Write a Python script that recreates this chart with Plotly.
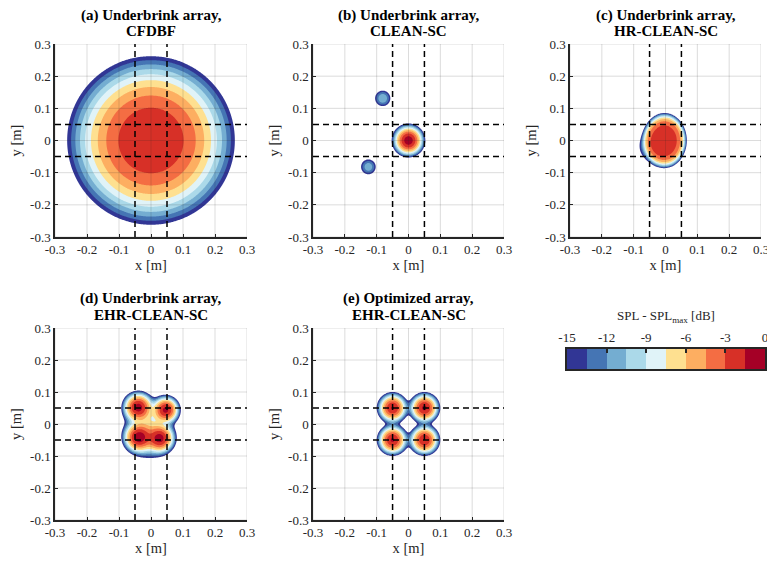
import numpy as np
import plotly.graph_objects as go

# ---------------------------------------------------------------- axes / levels
tick_vals = [-0.3, -0.2, -0.1, 0.0, 0.1, 0.2, 0.3]
tick_text = ["-0.3", "-0.2", "-0.1", "0", "0.1", "0.2", "0.3"]
window_edges = [-0.05, 0.05]          # dashed source-region boundaries [m]

level_min = -15.0                     # lowest displayed level [dB]
level_top = -1.5                      # highest contour level [dB]
level_step = 1.5
band_colors = ["#313695", "#4575b4", "#74add1", "#abd9e9", "#e0f3f8",
               "#fee090", "#fdae61", "#f46d43", "#d73027", "#a50026"]
cbar_tick_vals = [-15, -12, -9, -6, -3, 0]
cbar_tick_text = ["-15", "-12", "-9", "-6", "-3", "0"]

panel_titles = [
    ("(a) Underbrink array,", "CFDBF"),
    ("(b) Underbrink array,", "CLEAN-SC"),
    ("(c) Underbrink array,", "HR-CLEAN-SC"),
    ("(d) Underbrink array,", "EHR-CLEAN-SC"),
    ("(e) Optimized array,", "EHR-CLEAN-SC"),
]

# ---------------------------------------------------------------- source maps
# each lobe: centre x, y [m], peak level [dB], x-radius of its -15 dB edge [m],
# y/x stretch of the lobe, roll-off exponent
a_x = [0.0]
a_y = [0.0]
a_peak = [-1.75]
a_edge = [0.262]
a_stretch = [1.0]
a_shape = [2.5]

b_x = [0.0, -0.081, -0.126]
b_y = [0.0, 0.131, -0.082]
b_peak = [-0.6, -10.6, -10.9]
b_edge = [0.053, 0.024, 0.023]
b_stretch = [1.0, 1.0, 1.0]
b_shape = [2.0, 2.0, 2.0]

c_x = [-0.003, -0.04]
c_y = [0.0, -0.02]
c_peak = [-2.4, -11.0]
c_edge = [0.07, 0.04]
c_stretch = [1.22, 1.0]
c_shape = [5.0, 2.0]

d_x = [-0.040, 0.046, -0.038, 0.028, -0.005, -0.008]
d_y = [0.052, 0.044, -0.042, -0.045, -0.047, 0.0]
d_peak = [-1.0, -1.2, -1.0, -1.3, -10.0, -9.0]
d_edge = [0.052, 0.047, 0.052, 0.05, 0.055, 0.062]
d_stretch = [1.0, 1.0, 1.0, 1.0, 1.0, 1.0]
d_shape = [2.0, 2.0, 2.0, 2.0, 2.0, 2.0]

e_x = [-0.05, 0.05, -0.05, 0.05]
e_y = [0.05, 0.05, -0.05, -0.05]
e_peak = [-1.4, -1.2, -1.3, -1.5]
e_edge = [0.05, 0.05, 0.05, 0.05]
e_stretch = [1.0, 1.0, 1.0, 1.0]
e_shape = [2.0, 2.0, 2.0, 2.0]

maps = [
    (a_x, a_y, a_peak, a_edge, a_stretch, a_shape),
    (b_x, b_y, b_peak, b_edge, b_stretch, b_shape),
    (c_x, c_y, c_peak, c_edge, c_stretch, c_shape),
    (d_x, d_y, d_peak, d_edge, d_stretch, d_shape),
    (e_x, e_y, e_peak, e_edge, e_stretch, e_shape),
]

grid = np.linspace(tick_vals[0], tick_vals[-1], 301)
GX, GY = np.meshgrid(grid, grid)


def level_map(xs, ys, peaks, edges, stretches, shapes):
    """Energetic sum of the lobes, in dB."""
    power = np.zeros_like(GX)
    for x0, y0, pk, re, st, p in zip(xs, ys, peaks, edges, stretches, shapes):
        r = np.hypot((GX - x0) / re, (GY - y0) / (re * st))
        lev = pk - (pk - level_min) * r ** p
        power += 10 ** (np.maximum(lev, -90.0) / 10)
    return 10 * np.log10(power)


# stepped scale: band below level_min is transparent, then one colour per band
fill_steps = ["rgba(255,255,255,0)"] + band_colors
n = len(fill_steps) - 1
fill_scale = []
for k, col in enumerate(fill_steps):
    lo = max(0.0, (k - 0.5) / n)
    hi = min(1.0, (k + 0.5) / n)
    fill_scale += [[lo, col], [hi, col]]

bar_scale = []
for k, col in enumerate(band_colors):
    bar_scale += [[k / len(band_colors), col], [(k + 1) / len(band_colors), col]]

# ---------------------------------------------------------------- layout boxes
W, H = 767, 563
col_px = [(55, 247), (313, 504), (570, 761)]
row_px = [(44, 237), (328, 520)]
panel_pos = [(0, 0), (0, 1), (0, 2), (1, 0), (1, 1)]
title_px = [(15, 31), (298, 315)]

serif = "'Liberation Serif', 'DejaVu Serif', serif"
ink = "#262626"
grid_col = "rgba(38,38,38,0.16)"

fig = go.Figure()
layout = dict(
    width=W, height=H, margin=dict(l=0, r=0, t=0, b=0),
    paper_bgcolor="white", plot_bgcolor="white",
    font=dict(family=serif, size=13, color=ink),
    showlegend=False,
)
annotations = []
shapes = []

for i, ((row, col), src) in enumerate(zip(panel_pos, maps)):
    k = i + 1
    xa = "x" if k == 1 else f"x{k}"
    ya = "y" if k == 1 else f"y{k}"
    x0p, x1p = col_px[col]
    ytp, ybp = row_px[row]
    xdom = [x0p / W, x1p / W]
    ydom = [1 - ybp / H, 1 - ytp / H]

    z = level_map(*src)
    fig.add_trace(go.Contour(
        x=grid, y=grid, z=z, xaxis=xa, yaxis=ya,
        colorscale=fill_scale, zauto=False,
        zmin=level_min - level_step / 2, zmax=level_top + level_step / 2,
        autocontour=False,
        contours=dict(start=level_min, end=level_top, size=level_step,
                      coloring="fill", showlines=False),
        line=dict(width=0), showscale=False, hoverinfo="skip",
    ))

    common = dict(
        range=[tick_vals[0], tick_vals[-1]], tickvals=tick_vals, ticktext=tick_text,
        ticks="inside", ticklen=3, tickwidth=1, tickcolor=ink,
        showline=True, linecolor=ink, linewidth=1.5, mirror=False,
        showgrid=False, zeroline=False, automargin=False,
        ticklabeloverflow="allow",
        tickfont=dict(family=serif, size=13, color=ink),
    )
    layout["xaxis" if k == 1 else f"xaxis{k}"] = dict(
        common, domain=xdom, anchor=ya,
        title=dict(text="x [m]", font=dict(family=serif, size=14.5, color=ink), standoff=3),
    )
    layout["yaxis" if k == 1 else f"yaxis{k}"] = dict(
        common, domain=ydom, anchor=xa,
        title=dict(text="y [m]", font=dict(family=serif, size=14.5, color=ink), standoff=5),
    )

    # light grid drawn over the map
    for v in tick_vals:
        shapes.append(dict(type="line", xref=xa, yref=ya, x0=v, x1=v,
                           y0=tick_vals[0], y1=tick_vals[-1], layer="above",
                           line=dict(color=grid_col, width=1)))
        shapes.append(dict(type="line", xref=xa, yref=ya, y0=v, y1=v,
                           x0=tick_vals[0], x1=tick_vals[-1], layer="above",
                           line=dict(color=grid_col, width=1)))
    # dashed region boundaries
    for v in window_edges:
        shapes.append(dict(type="line", xref=xa, yref=ya, x0=v, x1=v,
                           y0=tick_vals[0], y1=tick_vals[-1], layer="above",
                           line=dict(color="black", width=1.5, dash="6px,4px")))
        shapes.append(dict(type="line", xref=xa, yref=ya, y0=v, y1=v,
                           x0=tick_vals[0], x1=tick_vals[-1], layer="above",
                           line=dict(color="black", width=1.5, dash="6px,4px")))

    t1, t2 = panel_titles[i]
    cx = (xdom[0] + xdom[1]) / 2
    for txt, py in zip((t1, t2), title_px[row]):
        annotations.append(dict(
            text=f"<b>{txt}</b>", x=cx, y=1 - py / H, xref="paper", yref="paper",
            xanchor="center", yanchor="middle", showarrow=False,
            font=dict(family=serif, size=15, color="black"),
        ))

# ---------------------------------------------------------------- colour bar
bar_centres = [level_min + level_step * (j + 0.5) for j in range(len(band_colors))]
fig.add_trace(go.Heatmap(
    x=bar_centres, y=[0], z=[bar_centres], xaxis="x6", yaxis="y6",
    colorscale=bar_scale, zmin=level_min, zmax=0, showscale=False, hoverinfo="skip",
))
cb_x = [567 / W, 765 / W]
cb_y = [1 - 369 / H, 1 - 349 / H]
layout["xaxis6"] = dict(
    domain=cb_x, anchor="y6", range=[level_min, 0], side="top",
    tickvals=cbar_tick_vals, ticktext=cbar_tick_text,
    ticks="inside", ticklen=4, tickwidth=1.5, tickcolor=ink,
    showline=True, mirror=True, linecolor=ink, linewidth=1.5,
    showgrid=False, zeroline=False, automargin=False, ticklabeloverflow="allow",
    tickfont=dict(family=serif, size=13, color=ink),
)
layout["yaxis6"] = dict(
    domain=cb_y, anchor="x6", range=[-0.5, 0.5],
    showticklabels=False, ticks="", showline=True, mirror=True,
    linecolor=ink, linewidth=1.5, showgrid=False, zeroline=False, automargin=False,
)
annotations.append(dict(
    text="SPL - SPL<sub>max</sub> [dB]", x=(cb_x[0] + cb_x[1]) / 2, y=1 - 316 / H,
    xref="paper", yref="paper", xanchor="center", yanchor="middle", showarrow=False,
    font=dict(family=serif, size=13, color=ink),
))

layout["annotations"] = annotations
layout["shapes"] = shapes
fig.update_layout(**layout)
fig.write_html("out.html")
